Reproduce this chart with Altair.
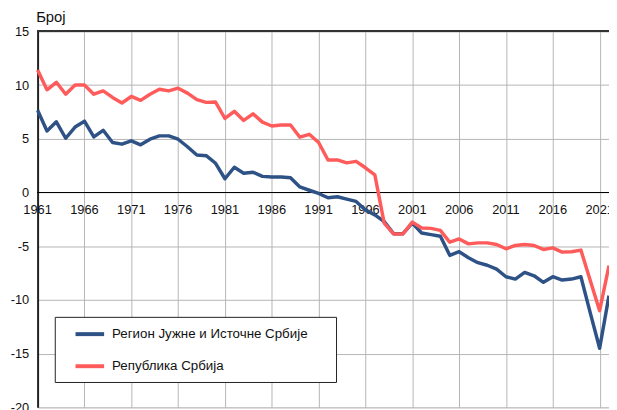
import altair as alt
import pandas as pd

years = list(range(1961, 2023))

series_names = ["Регион Јужне и Источне Србије", "Република Србија"]
series_colors = ["#2E5286", "#FF5B5B"]

region_values = [
    7.66, 5.73, 6.58, 5.05, 6.09, 6.64, 5.17, 5.79, 4.65, 4.50,
    4.81, 4.44, 4.96, 5.27, 5.27, 4.96, 4.26, 3.49, 3.43, 2.72,
    1.28, 2.35, 1.80, 1.89, 1.50, 1.44, 1.44, 1.38, 0.52, 0.21,
    -0.09, -0.49, -0.40, -0.61, -0.83, -1.62, -2.08, -2.70, -3.83, -3.83,
    -2.85, -3.77, -3.92, -4.07, -5.85, -5.51, -6.07, -6.53, -6.77, -7.14,
    -7.84, -8.06, -7.44, -7.75, -8.36, -7.84, -8.15, -8.06, -7.84, -11.2,
    -14.5, -9.6,
]

serbia_values = [
    11.40, 9.56, 10.26, 9.15, 10.00, 10.00, 9.15, 9.46, 8.85, 8.33,
    8.94, 8.58, 9.15, 9.61, 9.46, 9.71, 9.25, 8.64, 8.39, 8.42,
    6.89, 7.56, 6.71, 7.32, 6.55, 6.19, 6.28, 6.28, 5.15, 5.42,
    4.66, 3.03, 3.03, 2.76, 2.90, 2.30, 1.65, -2.85, -3.86, -3.86,
    -2.76, -3.31, -3.34, -3.52, -4.63, -4.32, -4.78, -4.69, -4.69, -4.84,
    -5.24, -4.93, -4.84, -4.93, -5.30, -5.15, -5.55, -5.51, -5.36, -8.2,
    -11.0, -6.8,
]

x_tick_years = [1961, 1966, 1971, 1976, 1981, 1986, 1991, 1996, 2001, 2006, 2011, 2016, 2021]
y_ticks = [-20, -15, -10, -5, 0, 5, 10, 15]
y_title = "Број"

FONT = "Liberation Sans"

df = pd.DataFrame({
    "year": years * 2,
    "value": region_values + serbia_values,
    "series": [series_names[0]] * len(years) + [series_names[1]] * len(years),
})
labels_df = pd.DataFrame({"year": x_tick_years})

x_scale = alt.Scale(domain=[1961, 2022], nice=False, zero=False)
y_scale = alt.Scale(domain=[-20, 15], nice=False, zero=False)

x_enc = alt.X(
    "year:Q", scale=x_scale, title=None,
    axis=alt.Axis(values=x_tick_years, labels=False, ticks=False, domain=False,
                  grid=True, gridColor="#b5b5b5", gridWidth=1),
)
y_enc = alt.Y(
    "value:Q", scale=y_scale, title=y_title,
    axis=alt.Axis(values=y_ticks, grid=True, gridColor="#b5b5b5", gridWidth=1,
                  ticks=False, domain=True, domainColor="#222222", domainWidth=2,
                  labelExpr="toString(datum.value)",
                  labelFontSize=13, labelFont=FONT, labelColor="#111111", labelPadding=9,
                  titleAngle=0, titleX=-2, titleY=-10, titleAlign="left",
                  titleBaseline="alphabetic", titleFontWeight="normal",
                  titleFontSize=15, titleFont=FONT, titleColor="#111111"),
)

lines = alt.Chart(df).mark_line(strokeWidth=3.5, strokeJoin="round").encode(
    x=x_enc,
    y=y_enc,
    color=alt.Color(
        "series:N",
        scale=alt.Scale(domain=series_names, range=series_colors),
        sort=series_names,
        legend=alt.Legend(
            title=None, orient="none", legendX=17.4, legendY=289.3,
            fillColor="white", strokeColor="#222222", padding=8,
            symbolType="M-2,0H2", symbolSize=210.25, symbolStrokeWidth=4,
            symbolOffset=18, labelOffset=13, labelLimit=500,
            labelFontSize=13.5, labelFont=FONT, labelColor="#111111",
            labelExpr="datum.label + '\u2800\u2800'",
            rowPadding=14.5,
        ),
    ),
    detail="series:N",
)

zero_rule = alt.Chart(labels_df).mark_rule(color="#000000", strokeWidth=1).encode(
    y=alt.datum(0, scale=y_scale)
)
top_rule = alt.Chart(labels_df).mark_rule(color="#333333", strokeWidth=1.5).encode(
    y=alt.datum(15, scale=y_scale)
)

year_labels = alt.Chart(labels_df).mark_text(
    font=FONT, fontSize=13, color="#111111", baseline="middle", dy=18
).encode(
    x=alt.X("year:Q", scale=x_scale),
    y=alt.datum(0, scale=y_scale),
    text=alt.Text("year:Q", format="d"),
)

chart = alt.layer(zero_rule, top_rule, year_labels, lines).properties(
    width=579,
    height=381,
    autosize=alt.AutoSizeParams(type="none"),
    padding={"left": 30, "top": 21, "right": 0, "bottom": 0},
).configure_view(strokeWidth=0).configure(background="white")

chart.save("out.html", embed_options={"renderer": "svg", "actions": False})
